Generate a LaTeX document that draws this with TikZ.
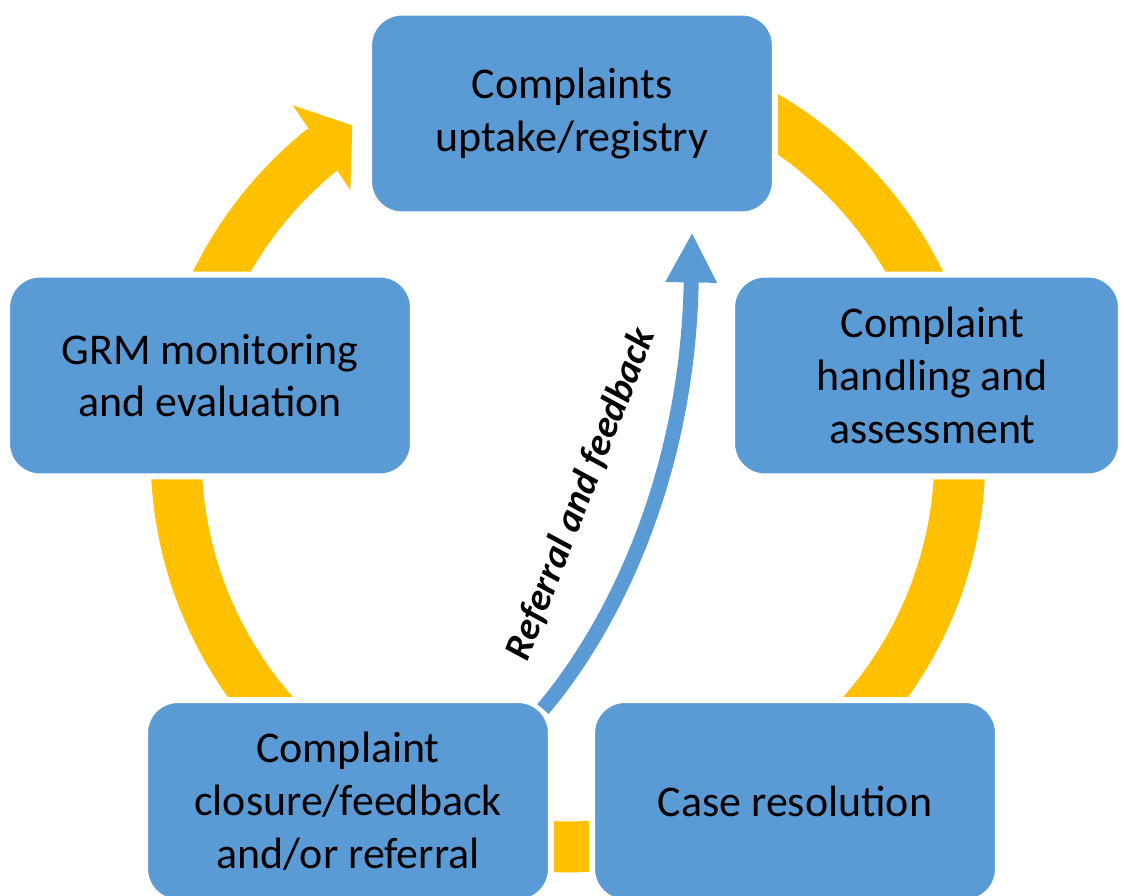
\documentclass[tikz,border=0pt]{standalone}
\usepackage{fontspec}
\setmainfont{Carlito}
\usetikzlibrary{arrows.meta,calc}
\definecolor{boxblue}{HTML}{5B9BD5}
\definecolor{ringyellow}{HTML}{FFC000}
\begin{document}
\begin{tikzpicture}[x=0.02cm,y=0.02cm,
  stage/.style={draw=white, line width=0.12cm, fill=boxblue, rounded corners=0.66cm,
    minimum width=8.12cm, minimum height=4.04cm, inner sep=0pt, align=center,
    font=\fontsize{25}{30}\selectfont, text=black},
  ring/.style={ringyellow, line width=1.02cm},
  feedback/.style={boxblue, line width=0.3cm, -{Triangle[length=1cm,width=0.96cm]}},
  flowlabel/.style={font=\fontsize{22}{26}\selectfont\bfseries\itshape, text=black}]
\useasboundingbox (0,0) rectangle (1124,895);
\coordinate (c) at (568,440);
% yellow cycle ring with arrow head
\draw[ring] ($(c)+(90:7.84cm)$) arc[start angle=90, end angle=-231.5, radius=7.84cm];
\fill[ringyellow] ($(c)+(128.2:8.9cm)$) -- ($(c)+(123.2:7.88cm)$) -- ($(c)+(129.4:6.86cm)$) -- cycle;
% stages
\node[stage] (uptake) at (572,781.5) {Complaints\\uptake/registry};
\node[stage] (monitor) at (210,519.5) {GRM monitoring\\and evaluation};
\node[stage, minimum width=7.78cm] (handle) at (926.5,519.5)
  {\hspace*{0.24cm}Complaint\\\hspace*{0.24cm}handling and\\\hspace*{0.24cm}assessment};
\node[stage] (closure) at (348,94) {Complaint\\closure/feedback\\and/or referral};
\node[stage] (resolve) at (795,94) {Case resolution};
% referral and feedback arrow
\coordinate (fbstart) at ($(closure.north east)+(-11,-12)$);
\coordinate (fbend) at ($(uptake.south)+(120,-15)$);
\draw[feedback] (fbstart) .. controls (610,265) and (688,415) .. (fbend);
\node[flowlabel, rotate=68.7] (lbl) at (581,401) {Referral and feedback};
\end{tikzpicture}
\end{document}
